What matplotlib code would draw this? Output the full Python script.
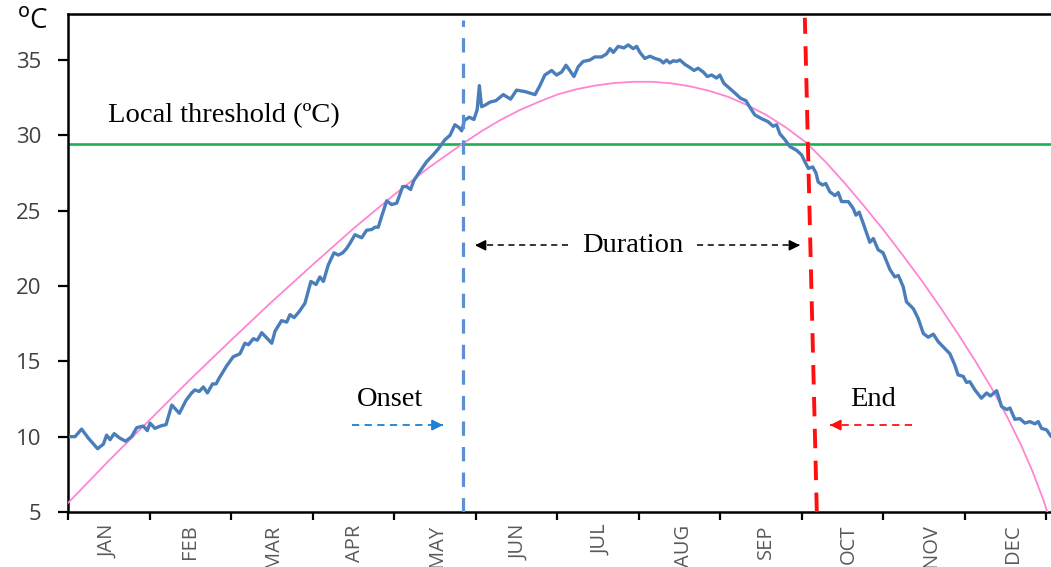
import matplotlib
matplotlib.use("Agg")
import matplotlib.pyplot as plt

# daily temperature trace (day of year, degC)
obs_day = [1, 2.6, 5.0, 7.5, 10.9, 13.0, 14.2, 15.5, 17.0, 19.1, 21.2, 23.4, 25.3, 27.7,
           29.2, 30.2, 32.0, 33.9, 36.1, 38.2, 41.0, 43.4, 45.5, 46.7, 48.3, 49.8, 51.3,
           53.2, 54.5, 55.7, 58.4, 60.8, 63.3, 65.1, 66.4, 68.2, 69.7, 71.3, 72.9, 75.0,
           76.2, 78.6, 80.5, 81.7, 83.2, 85.1, 87.2, 89.4, 91.3, 92.7, 94.0, 95.8, 97.9,
           99.5, 101.1, 102.6, 104.0, 105.6, 108.1, 109.9, 111.8, 113.0, 114.2, 115.4,
           117.3, 119.1, 121.0, 123.2, 124.6, 126.1, 127.3, 129.5, 132.0, 134.4, 136.3,
           138.7, 140.6, 142.4, 144.0, 144.9, 145.9, 147.7, 149.4, 150.6, 151.4, 152.2,
           153.5, 155.3, 157.5, 160.2, 162.9, 165.1, 168.2, 171.9, 173.7, 175.5, 178.0,
           179.8, 181.7, 183.3, 184.7, 186.2, 187.8, 189.6, 192.1, 193.9, 196.4, 198.2,
           199.5, 200.7, 202.5, 204.6, 206.2, 208.0, 209.3, 210.5, 212.3, 214.2, 216.0,
           217.9, 219.1, 220.3, 221.5, 222.8, 224.0, 225.2, 227.1, 228.9, 230.4, 231.9,
           233.8, 235.3, 236.9, 238.7, 239.9, 241.4, 243.0, 245.5, 247.6, 249.5, 251.0,
           252.8, 255.3, 257.7, 259.5, 260.8, 262.0, 263.9, 265.7, 268.2, 270.0, 271.2,
           272.5, 274.1, 275.3, 276.1, 277.7, 278.9, 280.4, 282.3, 283.5, 284.7, 287.2,
           289.0, 290.0, 291.2, 292.7, 295.1, 296.4, 298.2, 300.0, 302.5, 304.3, 305.6,
           307.4, 308.6, 311.1, 312.9, 314.8, 316.6, 318.5, 320.3, 322.7, 324.6, 326.4,
           327.6, 329.5, 330.7, 331.9, 333.8, 336.2, 338.1, 339.5, 341.8, 343.6, 345.5,
           346.7, 348.5, 350.3, 352.2, 354.0, 355.9, 357.1, 358.3, 360.2, 361.7]
obs_temp = [10.0, 10.0, 10.5, 9.9, 9.2, 9.5, 10.1, 9.8, 10.2, 9.9, 9.7, 10.0, 10.6, 10.7,
            10.4, 10.9, 10.55, 10.7, 10.8, 12.1, 11.55, 12.4, 12.9, 13.1, 13.0, 13.3, 12.9,
            13.5, 13.5, 13.9, 14.7, 15.3, 15.5, 16.2, 16.1, 16.5, 16.4, 16.9, 16.6, 16.2,
            17.0, 17.7, 17.6, 18.1, 17.9, 18.3, 18.85, 20.3, 20.1, 20.6, 20.3, 21.4, 22.2,
            22.05, 22.2, 22.5, 22.9, 23.4, 23.2, 23.7, 23.75, 23.9, 23.9, 24.6,
            25.65, 25.4, 25.5, 26.6, 26.6, 26.4, 27.0, 27.6, 28.25, 28.7, 29.1,
            29.7, 30.0, 30.7, 30.5, 30.3, 31.0, 31.2, 31.05, 31.7, 33.3, 31.9,
            32.0, 32.2, 32.3, 32.7, 32.4, 33.0, 32.9, 32.7, 33.3, 34.0, 34.3,
            34.0, 34.2, 34.65, 34.3, 33.9, 34.55, 34.9, 35.0, 35.2, 35.2, 35.4,
            35.75, 35.5, 35.9, 35.8, 36.0, 35.75, 35.9, 35.5, 35.1, 35.25, 35.1,
            35.0, 34.8, 35.0, 34.8, 34.95, 34.9, 35.0, 34.7, 34.5, 34.3, 34.45,
            34.2, 33.9, 34.0, 33.8, 34.0, 33.45, 33.2, 32.8, 32.45, 32.3, 31.85,
            31.35, 31.1, 30.9, 30.6, 30.7, 30.1, 29.7, 29.25, 29.0, 28.7, 28.25,
            27.8, 27.9, 27.5, 26.9, 26.7, 26.8, 26.25, 26.0, 26.2, 25.6, 25.6,
            25.15, 24.7, 24.9, 24.15, 22.9, 23.15, 22.4, 22.2, 21.1, 20.6, 20.7,
            19.95, 18.95, 18.5, 17.85, 16.85, 16.6, 16.8, 16.3, 15.85, 15.5, 14.75,
            14.1, 14.0, 13.6, 13.65, 13.1, 12.55, 12.9, 12.7, 13.05, 12.0, 11.8,
            11.9, 11.15, 11.2, 10.9, 11.0, 10.85, 11.0, 10.55, 10.45, 10.05]

# fitted seasonal curve
fit_day = [0, 15, 30, 45, 60, 75, 90, 105, 120, 132, 144.9, 152, 159, 166, 173, 180,
           187, 194, 201, 208, 215, 222, 229, 236, 243, 250, 257, 264, 271.8, 279,
           286, 293, 300, 307, 314, 321, 328, 334, 340, 346, 351, 355, 359, 363]
fit_temp = [5.6, 8.4, 11.1, 13.8, 16.4, 18.95, 21.4, 23.8, 26.05, 27.75, 29.4, 30.25,
            31.0, 31.65, 32.2, 32.7, 33.05, 33.3, 33.47, 33.55, 33.55, 33.45, 33.25,
            32.95, 32.55, 32.0, 31.35, 30.55, 29.5, 28.2, 26.8, 25.3, 23.75, 22.1,
            20.4, 18.6, 16.7, 15.0, 13.2, 11.2, 9.35, 7.7, 5.8, 3.6]

threshold = 29.45
onset_day = 145.3
end_day_top, end_day_bottom = 271.2, 275.6

months = ['JAN', 'FEB', 'MAR', 'APR', 'MAY', 'JUN',
          'JUL', 'AUG', 'SEP', 'OCT', 'NOV', 'DEC']

fig = plt.figure(figsize=(10.51, 5.67), dpi=100)
# x range runs a little past the right edge of the figure
ax = fig.add_axes([68 / 1051, 55 / 567, 991.7 / 1051, 498 / 567])
ax.set_xlim(0, 365)
ax.set_ylim(5, 38.05)

ax.plot(fit_day, fit_temp, color='#ff85d2', lw=1.3, zorder=3)
ax.plot(obs_day, obs_temp, color='#4a7ebb', lw=2.4, zorder=4)
ax.axhline(threshold, color='#1fae55', lw=1.9, zorder=2)

ax.plot([onset_day, onset_day], [5, 37.65], color='#5b8fd6', lw=2.3,
        dashes=(4.5, 3.5), zorder=5)
ax.plot([end_day_bottom, end_day_top], [5, 37.8], color='#ff1010', lw=2.8,
        dashes=(5, 3.2), zorder=5)

serif = dict(family='Liberation Serif', fontsize=20.5)
ax.text(14.7, 31.3, 'Local threshold (ºC)', va='center', ha='left', **serif)
ax.text(208, 22.7, 'Duration', va='center', ha='center', **serif)
ax.text(118.5, 12.45, 'Onset', va='center', ha='center', **serif)
ax.text(296.2, 12.45, 'End', va='center', ha='center', **serif)


def dashed_arrow(x0, x1, y, color, lw):
    ax.plot([x0, x1], [y, y], color=color, lw=lw, dashes=(4, 3))
    step = 2.0 if x1 > x0 else -2.0
    ax.annotate('', xy=(x1, y), xytext=(x1 - step, y),
                arrowprops=dict(arrowstyle='-|>', color=color, lw=lw,
                                mutation_scale=16, shrinkA=0, shrinkB=0))


dashed_arrow(184, 149.8, 22.7, 'black', 1.1)
dashed_arrow(231.5, 269.4, 22.7, 'black', 1.1)
dashed_arrow(104.5, 138, 10.77, '#1f7fd0', 1.3)
dashed_arrow(310.6, 280.4, 10.77, '#ff1010', 1.3)

ax.set_xticks(range(0, 361, 30))
ax.set_xticklabels([])
ax.set_xticks([14.7 + 30.29 * i for i in range(12)], minor=True)
ax.set_xticklabels(months, minor=True, rotation=90, color='#595959',
                   family='Open Sans', fontsize=14.5)
ax.tick_params(axis='x', which='minor', length=0, pad=9)
ax.tick_params(axis='x', which='major', length=6, width=1.6, direction='out')

ax.set_yticks(range(5, 36, 5))
ax.tick_params(axis='y', length=7, width=1.6, direction='out', pad=12,
               labelcolor='#404040', labelsize=16)
for lab in ax.get_yticklabels():
    lab.set_family('Open Sans')

for side in ['left', 'bottom', 'top']:
    ax.spines[side].set_linewidth(1.8)
ax.spines['right'].set_visible(False)

fig.text(33 / 1051, 1 - 22 / 567, r'$^{\rm o}$C', fontsize=20, ha='center',
         va='center', family='Open Sans', color='#0a0a0a')

fig.savefig('out.png', dpi=100)
